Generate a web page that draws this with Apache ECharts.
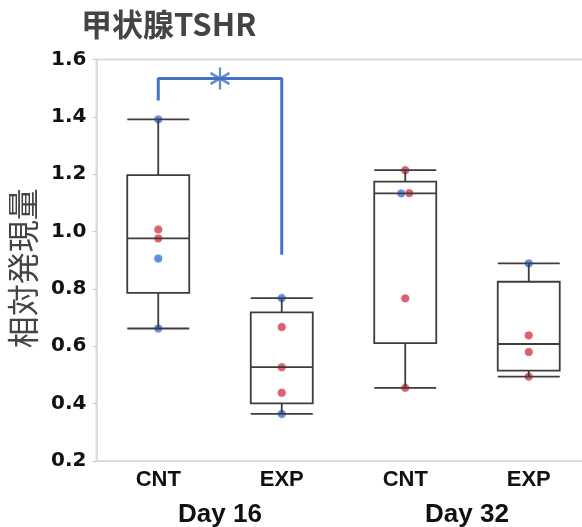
<!DOCTYPE html>
<html>
<head>
<meta charset="utf-8">
<script src="https://cdn.jsdelivr.net/npm/echarts@6/dist/echarts.min.js"></script>
<style>
  html, body { margin: 0; padding: 0; background: #fff; }
  #chart { width: 582px; height: 527px; }
</style>
</head>
<body>
<div id="chart"></div>
<script>
// Groups along the x axis
const groups = ['CNT', 'EXP', 'CNT', 'EXP'];
const days = ['Day 16', 'Day 32'];
const yTicks = [0.2, 0.4, 0.6, 0.8, 1.0, 1.2, 1.4, 1.6];

// Box statistics per group: [min, Q1, median, Q3, max]
const boxStats = [
  [0.662, 0.786, 0.976, 1.197, 1.391],
  [0.364, 0.401, 0.527, 0.718, 0.768],
  [0.455, 0.611, 1.133, 1.174, 1.214],
  [0.494, 0.515, 0.608, 0.825, 0.889]
];

// Individual samples: [group index, relative expression]
const redPoints = [
  [0, 1.007], [0, 0.976],
  [1, 0.667], [1, 0.527], [1, 0.438],
  [2, 1.214], [2, 1.134], [2, 0.767], [2, 0.455],
  [3, 0.638], [3, 0.580], [3, 0.494]
];
const bluePoints = [
  [0, 1.391], [0, 0.906], [0, 0.662],
  [1, 0.768], [1, 0.364],
  [2, 1.133],
  [3, 0.889]
];

// Significance bracket between Day 16 CNT and EXP, star halfway along it
const bracket = [[0, 1.457], [0, 1.534], [1, 1.534], [1, 0.919]];
const starMark = [[0.5, 1.534]];

// Nudge samples sideways where a red and a blue sample share a value
function spread(points, others, dx) {
  return points.map(p => {
    const clash = others.some(o => o[0] === p[0] && Math.abs(o[1] - p[1]) < 0.01);
    return clash ? { value: p, symbolOffset: [dx, 0] } : { value: p };
  });
}

const chart = echarts.init(document.getElementById('chart'));
const blue = '#4472c4';

chart.setOption({
  animation: false,
  title: {
    text: '甲状腺TSHR',
    left: 81, top: 9, padding: 0,
    textStyle: { fontFamily: 'Noto Sans CJK JP', fontWeight: 'bold', fontSize: 31, color: '#444' }
  },
  grid: {
    left: 96.5, top: 59.5, width: 494, height: 401.5,
    outerBoundsMode: 'none', containLabel: false,
    show: true, borderColor: '#dcdcdc', borderWidth: 2, backgroundColor: '#fff'
  },
  xAxis: [
    {
      type: 'category', data: groups, position: 'bottom',
      axisLine: { lineStyle: { color: '#dcdcdc', width: 2 } },
      axisTick: { show: false },
      axisLabel: { margin: 8, fontFamily: 'Liberation Sans', fontWeight: 'bold', fontSize: 22, color: '#111' }
    },
    {
      type: 'category', data: days, position: 'bottom', offset: 35,
      axisLine: { show: false }, axisTick: { show: false },
      axisLabel: { margin: 6, fontFamily: 'Liberation Sans', fontWeight: 'bold', fontSize: 26, color: '#111' }
    },
    {
      // same span as the group bands, for marks placed between groups
      type: 'value', min: -0.5, max: 3.5, show: false
    }
  ],
  yAxis: {
    type: 'value', min: yTicks[0], max: yTicks[yTicks.length - 1], interval: 0.2,
    name: '相対発現量', nameLocation: 'middle', nameGap: 58,
    nameTextStyle: { fontFamily: 'Noto Sans CJK JP', fontSize: 32, color: '#444', padding: [0, 16, 0, 0] },
    axisLine: { show: true, onZero: false, lineStyle: { color: '#dcdcdc', width: 2 } },
    axisTick: { show: true, length: 4, lineStyle: { color: '#c8c8c8' } },
    splitLine: { show: false },
    axisLabel: {
      margin: 10, fontFamily: 'DejaVu Sans', fontWeight: 'bold', fontSize: 20, color: '#111',
      formatter: v => v.toFixed(1)
    }
  },
  series: [
    {
      type: 'scatter', z: 2, symbolSize: 9,
      data: spread(redPoints, bluePoints, 4),
      itemStyle: { color: '#d83a4a', borderColor: '#fff', borderWidth: 1 }
    },
    {
      type: 'scatter', z: 2, symbolSize: 9,
      data: spread(bluePoints, redPoints, -4),
      itemStyle: { color: '#3b6fde', borderColor: '#fff', borderWidth: 1 }
    },
    {
      type: 'boxplot', z: 3, boxWidth: [62, 62],
      data: boxStats,
      itemStyle: { color: 'transparent', borderColor: '#3d3d3d', borderWidth: 1.8 }
    },
    {
      type: 'line', z: 4, data: bracket, symbol: 'none',
      lineStyle: { color: blue, width: 3 }
    },
    {
      type: 'scatter', z: 5, xAxisIndex: 2, data: starMark,
      symbol: 'path://M0,-10L0,10M-8.66,-5L8.66,5M-8.66,5L8.66,-5',
      symbolSize: [19, 22],
      itemStyle: { color: 'none', borderColor: blue, borderWidth: 2.5 }
    }
  ]
});
</script>
</body>
</html>
